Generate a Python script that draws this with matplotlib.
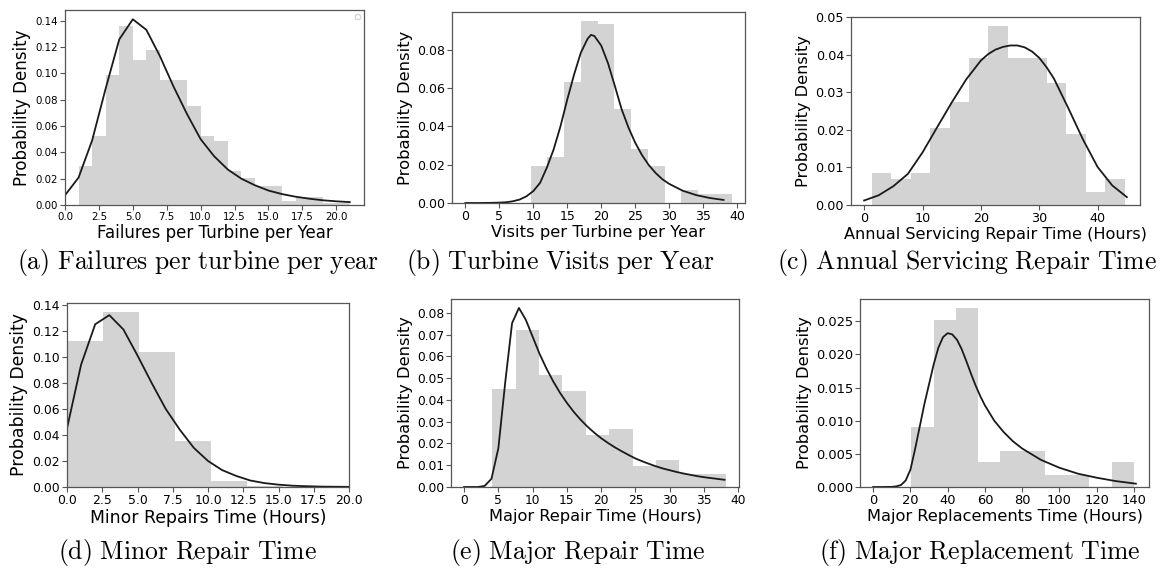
import numpy as np
import matplotlib
matplotlib.use("Agg")
import matplotlib.pyplot as plt
from matplotlib.ticker import MultipleLocator

plt.rcParams["mathtext.fontset"] = "cm"

# (a) failures per turbine per year
hist_a = [0.0294, 0.0522, 0.0984, 0.1359, 0.110, 0.118, 0.0948, 0.0948, 0.0753, 0.0522,
          0.0489, 0.0259, 0.0203, 0.0144, 0.0144, 0.0028, 0.0061, 0.0061, 0.0018, 0.0012]
bins_a = (1, 21)
x_a = list(range(0, 22))
pdf_a = [0.0074, 0.0208, 0.049, 0.0885, 0.1257, 0.141, 0.133, 0.113, 0.090, 0.069, 0.050,
         0.037, 0.027, 0.020, 0.015, 0.011, 0.0083, 0.0063, 0.0048, 0.0036, 0.0028, 0.0022]

# (b) turbine visits per year
hist_b = [0.0192, 0.0238, 0.0634, 0.0950, 0.0934, 0.0491, 0.0283, 0.0192, 0.0, 0.0070,
          0.0049, 0.0049]
bins_b = (9.6, 39.2)
x_b = [0, 2, 4, 5, 6, 7, 8, 9, 10, 11, 12, 13, 14, 15, 16, 17, 18, 18.5, 19, 20, 21, 22,
       23, 24, 25, 26, 27, 28, 29, 30, 32, 34, 36, 38]
pdf_b = [0.0, 0.0, 0.0001, 0.0002, 0.0004, 0.0009, 0.0018, 0.0035, 0.0062, 0.0105, 0.0185,
         0.0280, 0.0400, 0.0540, 0.0670, 0.0785, 0.0858, 0.0878, 0.0872, 0.0822, 0.0730,
         0.0612, 0.0490, 0.0395, 0.0315, 0.0250, 0.0198, 0.0157, 0.0124, 0.0100, 0.0064,
         0.0041, 0.0026, 0.0016]

# (c) annual servicing repair time
hist_c = [0.0086, 0.0070, 0.0086, 0.0205, 0.0275, 0.0392, 0.0477, 0.0392, 0.0392, 0.0326,
          0.0189, 0.0035, 0.0070]
bins_c = (1.3, 44.6)
x_c = [0, 2.5, 5, 7.5, 10, 12.5, 15, 17.5, 20, 21.25, 22.5, 23.75, 25, 26.25, 27.5, 28.75,
       30, 31.25, 32.5, 35, 37.5, 40, 42.5, 45]
pdf_c = [0.0012, 0.0026, 0.0050, 0.0083, 0.0140, 0.0207, 0.0273, 0.0335, 0.0385, 0.0402,
         0.0414, 0.0421, 0.0425, 0.0425, 0.0420, 0.0409, 0.0392, 0.0367, 0.0337, 0.0257,
         0.0174, 0.0101, 0.0052, 0.0021]

# (d) minor repair time
hist_d = [0.1119, 0.1346, 0.104, 0.0355, 0.0049, 0.0005]
bins_d = (0, 15.3)
x_d = list(range(0, 21))
pdf_d = [0.045, 0.094, 0.125, 0.132, 0.121, 0.101, 0.080, 0.060, 0.044, 0.030, 0.020,
         0.013, 0.0085, 0.005, 0.003, 0.0018, 0.001, 0.0006, 0.0003, 0.0002, 0.0001]

# (e) major repair time
hist_e = [0.0451, 0.0723, 0.0516, 0.0443, 0.0241, 0.0268, 0.0097, 0.0126, 0.0061, 0.0061]
bins_e = (4.13, 38.2)
x_e = list(range(0, 39))
pdf_e = [0.0, 0.0, 0.0, 0.0005, 0.0038, 0.0178, 0.048, 0.0752, 0.0822, 0.0768, 0.0690,
         0.0612, 0.0545, 0.0485, 0.0432, 0.0386, 0.0345, 0.0309, 0.0277, 0.0249, 0.0224,
         0.0202, 0.0182, 0.0164, 0.0147, 0.0131, 0.0118, 0.0106, 0.0095, 0.0085, 0.0077,
         0.0069, 0.0062, 0.0056, 0.0050, 0.0045, 0.0041, 0.0037, 0.0033]

# (f) major replacement time
hist_f = [0.0091, 0.0252, 0.0270, 0.0037, 0.0055, 0.0055, 0.0018, 0.0018, 0.0, 0.0037]
bins_f = (20.5, 140)
x_f = [0, 5, 10, 12.5, 15, 17.5, 20, 22.5, 25, 27.5, 30, 32.5, 35, 37.5, 40, 42.5, 45,
       47.5, 50, 52.5, 55, 57.5, 60, 65, 70, 75, 80, 90, 100, 110, 120, 130, 141]
pdf_f = [0.0, 0.0, 0.00002, 0.0001, 0.0003, 0.0010, 0.0026, 0.0057, 0.0091, 0.0125,
         0.0155, 0.0185, 0.0210, 0.0226, 0.0232, 0.0230, 0.0222, 0.0208, 0.0190, 0.0171,
         0.0153, 0.0137, 0.0123, 0.0100, 0.0083, 0.0069, 0.0058, 0.0041, 0.0029, 0.0020,
         0.0014, 0.0009, 0.0005]

xlabels = ["Failures per Turbine per Year", "Visits per Turbine per Year",
           "Annual Servicing Repair Time (Hours)", "Minor Repairs Time (Hours)",
           "Major Repair Time (Hours)", "Major Replacements Time (Hours)"]
captions = ["(a) Failures per turbine per year", "(b) Turbine Visits per Year",
            "(c) Annual Servicing Repair Time", "(d) Minor Repair Time",
            "(e) Major Repair Time", "(f) Major Replacement Time"]

W, H = 1162, 572
fig = plt.figure(figsize=(W / 100, H / 100), dpi=100)

# pixel boxes: left, right, top, bottom
boxes = [(65, 364, 10, 205), (452, 745, 12, 203), (851, 1140, 17, 205),
         (67, 349, 303, 487), (451, 739, 299, 487), (860, 1149, 299, 487)]
label_sizes = [12.0, 11.8, 11.6, 12.4, 11.7, 11.7]
tick_sizes = [7.4, 9.0, 9.2, 8.9, 8.8, 9.4]
steps = [(2.5, 0.02), (5, 0.02), (10, 0.01), (2.5, 0.02), (5, 0.01), (20, 0.005)]
caption_pos = [(198, 263), (560, 263), (967, 263), (188, 552), (578, 552), (980, 552)]

data = [(hist_a, bins_a, x_a, pdf_a), (hist_b, bins_b, x_b, pdf_b),
        (hist_c, bins_c, x_c, pdf_c), (hist_d, bins_d, x_d, pdf_d),
        (hist_e, bins_e, x_e, pdf_e), (hist_f, bins_f, x_f, pdf_f)]

for i, ((hv, (lo, hi), xs, ys), (l, r, t, b)) in enumerate(zip(data, boxes)):
    ax = fig.add_axes([l / W, 1 - b / H, (r - l) / W, (b - t) / H])
    edges = np.linspace(lo, hi, len(hv) + 1)
    ax.stairs(hv, edges, fill=True, color="#d3d3d3", linewidth=0)
    ax.plot(xs, ys, color="#1a1a1a", lw=1.3)
    ax.xaxis.set_major_locator(MultipleLocator(steps[i][0]))
    ax.yaxis.set_major_locator(MultipleLocator(steps[i][1]))
    ax.set_xlabel(xlabels[i], fontsize=label_sizes[i], labelpad=1.5)
    ax.set_ylabel("Probability Density", fontsize=label_sizes[i], labelpad=3)
    ax.tick_params(labelsize=tick_sizes[i], length=3.5, pad=1.5, color="#555555")
    for s in ax.spines.values():
        s.set_color("#555555")
        s.set_linewidth(0.9)
    if i == 0:
        ax.set_xlim(left=0)
        ax.legend(handles=[], loc="upper right", fontsize=6, borderpad=0.3)
    if i == 3:
        ax.set_xlim(0, 20)

for cap, (cx, cy) in zip(captions, caption_pos):
    txt = r"$\mathrm{" + cap.replace(" ", r"\ ") + "}$"
    fig.text(cx / W, 1 - cy / H, txt, ha="center", va="center", fontsize=18.5)

fig.savefig("out.png", dpi=100)
